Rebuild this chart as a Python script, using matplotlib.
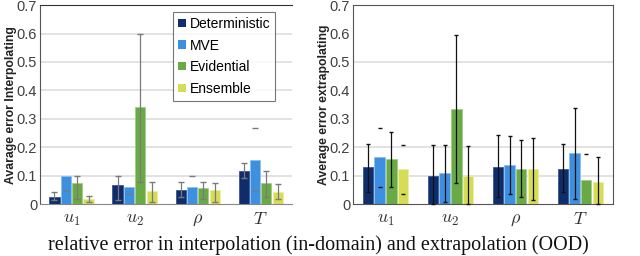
import numpy as np
import matplotlib
matplotlib.use("Agg")
import matplotlib.pyplot as plt
from matplotlib.patches import Patch

plt.rcParams["font.family"] = ["Liberation Sans", "DejaVu Sans"]
plt.rcParams["mathtext.fontset"] = "cm"

categories = [r"$u_1$", r"$u_2$", r"$\rho$", r"$T$"]
methods = ["Deterministic", "MVE", "Evidential", "Ensemble"]
colors = ["#0f2d6b", "#3d8fe0", "#6aaa46", "#d6dc55"]
edges = ["#3a5590", "#8cc0f0", "#a3cc88", "#ecefa0"]
nan = np.nan

# interpolating (in-domain): bar heights, lower / upper error ends
int_det = [0.026, 0.066, 0.049, 0.116]
int_mve = [0.098, 0.061, 0.061, 0.155]
int_evi = [0.075, 0.340, 0.056, 0.073]
int_ens = [0.019, 0.046, 0.048, 0.042]
int_lo = [[0.014, 0.014, 0.026, 0.093], [0.047, 0.037, nan, 0.047],
          [0.019, 0.078, 0.019, 0.026], [0.008, 0.008, 0.008, 0.018]]
int_hi = [[0.043, 0.100, 0.078, 0.145], [nan, nan, 0.098, 0.266],
          [0.098, 0.600, 0.078, 0.117], [0.029, 0.078, 0.073, 0.070]]
int_whisker = [[1, 1, 1, 1], [0, 0, 0, 0], [1, 1, 1, 1], [1, 1, 1, 1]]

# extrapolating (OOD)
ext_det = [0.129, 0.100, 0.131, 0.125]
ext_mve = [0.165, 0.108, 0.137, 0.178]
ext_evi = [0.157, 0.334, 0.125, 0.084]
ext_ens = [0.122, 0.098, 0.122, 0.077]
ext_lo = [[0.041, 0.000, 0.026, 0.041], [0.061, 0.008, 0.037, 0.016],
          [0.061, 0.075, 0.026, nan], [0.037, 0.000, 0.014, 0.000]]
ext_hi = [[0.213, 0.207, 0.242, 0.211], [0.266, 0.207, 0.239, 0.338],
          [0.254, 0.596, 0.227, 0.176], [0.207, 0.205, 0.233, 0.164]]
ext_whisker = [[1, 1, 1, 1], [0, 1, 1, 1], [1, 1, 1, 0], [0, 1, 1, 1]]

yticks = [0, 0.1, 0.2, 0.3, 0.4, 0.5, 0.6, 0.7]
ytick_labels = ["0", "0.1", "0.2", "0.3", "0.4", "0.5", "0.6", "0.7"]


def draw_panel(ax, means, lo, hi, whisker, err_color, cap_size, grid_vals):
    x = np.arange(len(categories))
    step, width = 0.18, 0.16
    for y in grid_vals:
        ax.axhline(y, color="#dddddd", lw=1.2, zorder=0)
    for i, vals in enumerate(means):
        xs = x + (i - 1.5) * step
        ax.bar(xs, vals, width, color=colors[i], edgecolor=edges[i],
               linewidth=0.6, label=methods[i], zorder=2)
        for j in range(len(xs)):
            if whisker[i][j] and not np.isnan(lo[i][j]) and not np.isnan(hi[i][j]):
                ax.vlines(xs[j], lo[i][j], hi[i][j], color=err_color, lw=0.9, zorder=3)
        ax.plot(xs, lo[i], ls="none", marker="_", ms=cap_size, mew=1.0,
                color=err_color, zorder=3, clip_on=False)
        ax.plot(xs, hi[i], ls="none", marker="_", ms=cap_size, mew=1.0,
                color=err_color, zorder=3)
    ax.set_xlim(-0.5, len(categories) - 0.5)
    ax.set_ylim(0, 0.7)
    ax.set_yticks(yticks)
    ax.set_yticklabels(ytick_labels, fontsize=10.5, color="#404040")
    ax.set_xticks(x)
    ax.set_xticklabels(categories, fontsize=13, color="#333333")
    ax.tick_params(length=0, pad=2)
    ax.tick_params(axis="x", pad=5)


fig = plt.figure(figsize=(6.4, 2.56), dpi=100)
ax1 = fig.add_axes([0.0625, 0.203, 0.394, 0.777])
ax2 = fig.add_axes([0.5516, 0.203, 0.406, 0.777])

draw_panel(ax1, [int_det, int_mve, int_evi, int_ens], int_lo, int_hi, int_whisker,
           "#7a7a7a", 4, [0.1, 0.2, 0.3, 0.4, 0.5, 0.6])
ax1.spines["right"].set_visible(False)
ax1.spines["top"].set_color("#333333")
ax1.spines["left"].set_color("#555555")
ax1.spines["bottom"].set_color("#888888")
ax1.set_ylabel("Avarage error Interpolating", fontsize=8.8, fontweight="bold",
               color="#222222", labelpad=0)

handles = [Patch(facecolor=c) for c in colors]
leg = ax1.legend(handles, methods, loc="upper left", bbox_to_anchor=(0.528, 0.965),
                 fontsize=10, frameon=True, fancybox=False, handlelength=0.55,
                 handleheight=0.55, handletextpad=0.3, labelspacing=0.55,
                 borderpad=0.35, borderaxespad=0)
leg.get_frame().set_edgecolor("#555555")
leg.get_frame().set_linewidth(0.8)

draw_panel(ax2, [ext_det, ext_mve, ext_evi, ext_ens], ext_lo, ext_hi, ext_whisker,
           "#111111", 3, [0.1, 0.2, 0.5])
for s in ax2.spines.values():
    s.set_color("#555555")
ax2.set_ylabel("Average error extrapolating", fontsize=8.8, fontweight="bold",
               color="#222222", labelpad=0)

fig.text(0.075, 0.025, "relative error in interpolation (in-domain) and extrapolation (OOD)",
         fontsize=14.5, family="Liberation Serif", va="baseline", ha="left", color="#111111")

fig.savefig("out.png", dpi=100)
